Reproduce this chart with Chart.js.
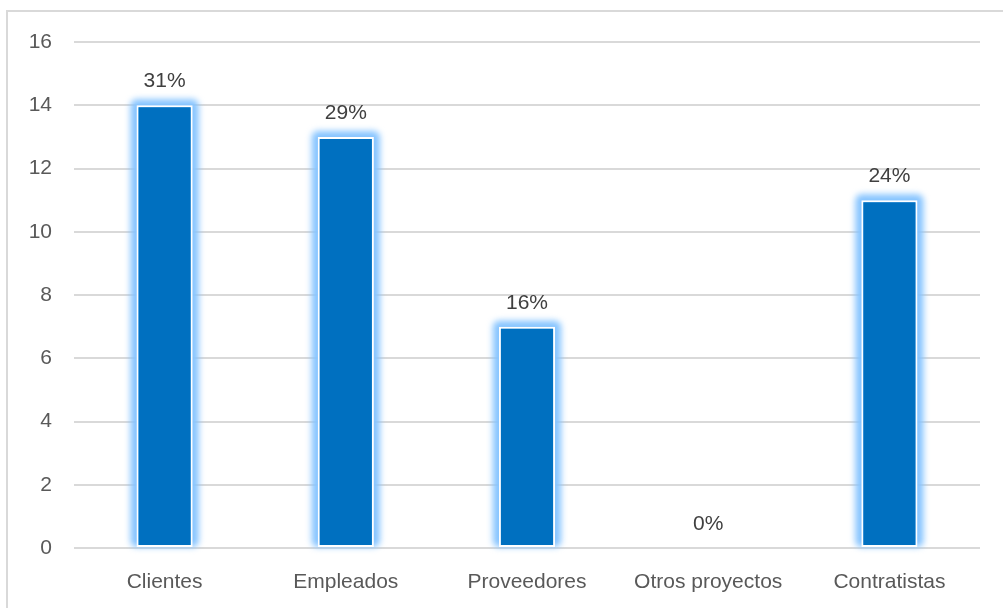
<!DOCTYPE html>
<html>
<head>
<meta charset="utf-8">
<script src="https://cdn.jsdelivr.net/npm/chart.js@4.4.1/dist/chart.umd.min.js"></script>
<style>
  html, body { margin: 0; padding: 0; background: #fff; }
  #grafico { display: block; }
</style>
</head>
<body>
<canvas id="grafico" width="1003" height="608"></canvas>
<script>
const categorias = ["Clientes", "Empleados", "Proveedores", "Otros proyectos", "Contratistas"];
const cantidades = [14, 13, 7, 0, 11];
const porcentajes = ["31%", "29%", "16%", "0%", "24%"];
const marcasEjeY = [0, 2, 4, 6, 8, 10, 12, 14, 16];

const fuente = "'Liberation Sans', Arial, sans-serif";

// marco gris del gráfico (solo borde superior e izquierdo)
const marco = {
  id: "marco",
  beforeDraw(chart) {
    const ctx = chart.ctx;
    ctx.save();
    ctx.strokeStyle = "#d9d9d9";
    ctx.lineWidth = 2;
    ctx.beginPath();
    ctx.moveTo(7, chart.height);
    ctx.lineTo(7, 11);
    ctx.lineTo(chart.width, 11);
    ctx.stroke();
    ctx.restore();
  }
};

// halo azul claro difuminado alrededor de las barras
const halo = {
  id: "halo",
  beforeDatasetsDraw(chart) {
    const ctx = chart.ctx;
    const meta = chart.getDatasetMeta(0);
    ctx.save();
    ctx.filter = "blur(3px)";
    ctx.fillStyle = "#86c4ff";
    meta.data.forEach(barra => {
      const { x, y, base, width } = barra.getProps(["x", "y", "base", "width"], true);
      if (Math.abs(base - y) < 1) return;
      ctx.beginPath();
      ctx.roundRect(x - width / 2 - 6, y - 6, width + 12, base - y + 6, 6);
      ctx.fill();
    });
    ctx.restore();
  }
};

// porcentajes encima de cada barra
const etiquetas = {
  id: "etiquetas",
  afterDatasetsDraw(chart) {
    const ctx = chart.ctx;
    const meta = chart.getDatasetMeta(0);
    ctx.save();
    ctx.font = "21px " + fuente;
    ctx.fillStyle = "#404040";
    ctx.textAlign = "center";
    ctx.textBaseline = "alphabetic";
    meta.data.forEach((barra, i) => {
      ctx.fillText(porcentajes[i], barra.x, barra.y - 18);
    });
    ctx.restore();
  }
};

new Chart(document.getElementById("grafico"), {
  type: "bar",
  data: {
    labels: categorias,
    datasets: [{
      data: cantidades,
      backgroundColor: "#0070c0",
      borderColor: "#ffffff",
      borderWidth: 2,
      borderSkipped: false,
      categoryPercentage: 1,
      barPercentage: 0.31
    }]
  },
  options: {
    responsive: false,
    animation: false,
    layout: { padding: { left: 0, right: 23, top: 42, bottom: 0 } },
    plugins: {
      legend: { display: false },
      tooltip: { enabled: false }
    },
    scales: {
      x: {
        grid: { display: false },
        border: { display: false },
        ticks: {
          color: "#595959",
          font: { family: fuente, size: 21 },
          padding: 14,
          maxRotation: 0
        },
        afterFit(scale) { scale.height = 60; }
      },
      y: {
        min: 0,
        max: 16,
        afterBuildTicks(scale) {
          scale.ticks = marcasEjeY.map(v => ({ value: v }));
        },
        grid: { color: "#d9d9d9", lineWidth: 2, drawTicks: false },
        border: { display: false },
        ticks: {
          color: "#595959",
          font: { family: fuente, size: 21 },
          padding: 22
        },
        afterFit(scale) { scale.width = 74; }
      }
    }
  },
  plugins: [marco, halo, etiquetas]
});
</script>
</body>
</html>
